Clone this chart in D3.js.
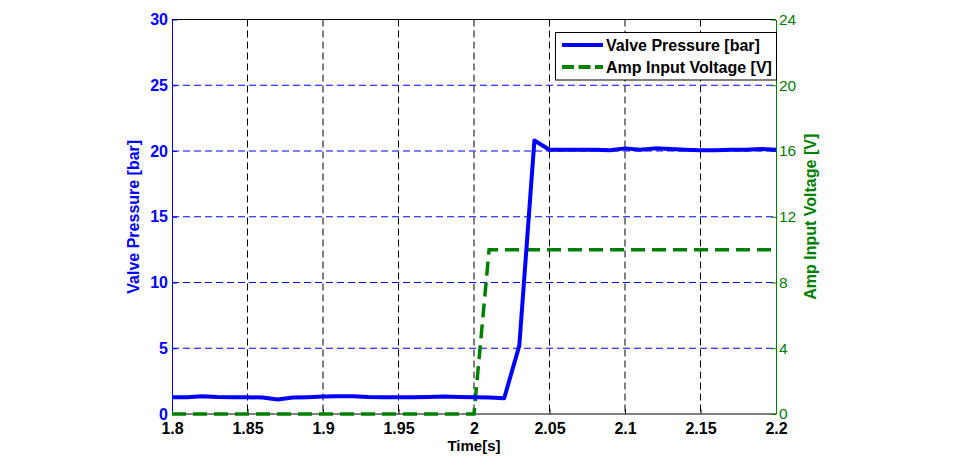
<!DOCTYPE html>
<html><head><meta charset="utf-8">
<script src="https://cdn.jsdelivr.net/npm/d3@7"></script>
<style>body{margin:0;background:#fff}svg{display:block;font-family:"Liberation Sans",Arial,sans-serif}</style>
</head><body><svg id="c" width="969" height="476"></svg>
<script>
const time = [1.80,1.81,1.82,1.83,1.84,1.85,1.86,1.87,1.88,1.89,1.90,1.91,1.92,1.93,1.94,1.95,1.96,1.97,1.98,1.99,2.00,
  2.01,2.02,2.03,2.04,2.05,2.06,2.07,2.08,2.09,2.10,2.11,2.12,2.13,2.14,2.15,2.16,2.17,2.18,2.19,2.20];
const pressure = [1.28,1.28,1.35,1.3,1.28,1.28,1.25,1.1,1.25,1.28,1.33,1.35,1.35,1.3,1.28,1.28,1.28,1.3,1.33,1.3,1.27,
  1.25,1.2,5.2,20.8,20.1,20.1,20.1,20.1,20.05,20.2,20.1,20.2,20.15,20.1,20.05,20.05,20.1,20.1,20.15,20.1];
const voltage = [0,0,0,0,0,0,0,0,0,0,0,0,0,0,0,0,0,0,0,0,0,
  10,10,10,10,10,10,10,10,10,10,10,10,10,10,10,10,10,10,10,10];
const xTicks = [1.8,1.85,1.9,1.95,2,2.05,2.1,2.15,2.2];
const leftTicks = [0,5,10,15,20,25,30];
const rightTicks = [0,4,8,12,16,20,24];
const labels = {x:"Time[s]", left:"Valve Pressure [bar]", right:"Amp Input Voltage [V]"};
const legendNames = ["Valve Pressure [bar]","Amp Input Voltage [V]"];

const L=172,R=776,T=19.5,B=414;
const blue="#0000ff", green="#008000";
const FF="Liberation Sans, Arial, sans-serif";
const svg=d3.select("#c");
const x=d3.scaleLinear().domain([1.8,2.2]).range([L,R]);
const yl=d3.scaleLinear().domain([0,30]).range([B,T]);
const yr=d3.scaleLinear().domain([0,24]).range([B,T]);

// grid
svg.append("g").selectAll("line").data(xTicks.slice(1,-1)).join("line")
  .attr("x1",d=>x(d)).attr("x2",d=>x(d)).attr("y1",T).attr("y2",B)
  .attr("stroke","#000").attr("stroke-width",1).attr("stroke-dasharray","7,4");
svg.append("g").selectAll("line").data(leftTicks.slice(1,-1)).join("line")
  .attr("x1",L).attr("x2",R).attr("y1",d=>yl(d)).attr("y2",d=>yl(d))
  .attr("stroke",blue).attr("stroke-width",1).attr("stroke-dasharray","7,4");

// box
svg.append("line").attr("x1",L).attr("x2",R).attr("y1",T).attr("y2",T).attr("stroke","#000");
svg.append("line").attr("x1",L).attr("x2",R).attr("y1",B).attr("y2",B).attr("stroke","#000");

// axes
const ax=svg.append("g").attr("transform",`translate(0,${B})`)
  .call(d3.axisBottom(x).tickValues(xTicks).tickFormat(d3.format("")).tickSizeInner(-5).tickSizeOuter(0).tickPadding(9));
ax.select(".domain").remove();
ax.selectAll("line").attr("stroke","#000");
ax.selectAll("text").attr("font-size",16).attr("font-weight","bold").attr("fill","#000").attr("font-family",FF);

const al=svg.append("g").attr("transform",`translate(${L},0)`)
  .call(d3.axisLeft(yl).tickValues(leftTicks).tickSizeInner(-5).tickSizeOuter(0).tickPadding(4));
al.select(".domain").attr("stroke",blue);
al.selectAll("line").attr("stroke",blue);
al.selectAll("text").attr("font-size",16).attr("font-weight","bold").attr("fill",blue).attr("font-family",FF);

const ar=svg.append("g").attr("transform",`translate(${R},0)`)
  .call(d3.axisRight(yr).tickValues(rightTicks).tickSizeInner(-5).tickSizeOuter(0).tickPadding(3));
ar.select(".domain").attr("stroke",green);
ar.selectAll("line").attr("stroke",green);
ar.selectAll("text").attr("font-size",15.5).attr("fill",green).attr("font-family",FF);

// lines
const data=time.map((t,i)=>({t,p:pressure[i],v:voltage[i]}));
svg.append("path").datum(data).attr("fill","none").attr("stroke",green).attr("stroke-width",3.5)
  .attr("stroke-dasharray","14,7").attr("d",d3.line().x(d=>x(d.t)).y(d=>yr(d.v)));
svg.append("path").datum(data).attr("fill","none").attr("stroke",blue).attr("stroke-width",4)
  .attr("stroke-linejoin","round").attr("d",d3.line().x(d=>x(d.t)).y(d=>yl(d.p)));

// labels
svg.append("text").attr("x",x(2)).attr("y",451).attr("text-anchor","middle").attr("font-size",15).attr("font-weight","bold").text(labels.x);
svg.append("text").attr("transform",`translate(139,${(T+B)/2}) rotate(-90)`).attr("text-anchor","middle")
  .attr("font-size",16).attr("font-weight","bold").attr("fill",blue).text(labels.left);
svg.append("text").attr("transform",`translate(816,${(T+B)/2}) rotate(-90)`).attr("text-anchor","middle")
  .attr("font-size",16).attr("font-weight","bold").attr("fill",green).text(labels.right);

// legend
const lg=svg.append("g");
lg.append("rect").attr("x",555.5).attr("y",32.5).attr("width",221).attr("height",47.5).attr("fill","#fff").attr("stroke","#000");
const cols=[blue,green], dashes=[null,"12,4.5"];
legendNames.forEach((n,i)=>{
  const yy=45+i*22;
  lg.append("line").attr("x1",562).attr("x2",603).attr("y1",yy).attr("y2",yy).attr("stroke",cols[i]).attr("stroke-width",4)
    .attr("stroke-dasharray",dashes[i]);
  lg.append("text").attr("x",606).attr("y",yy+6).attr("font-size",16).attr("font-weight","bold").attr("font-family",FF).text(n);
});
</script></body></html>
